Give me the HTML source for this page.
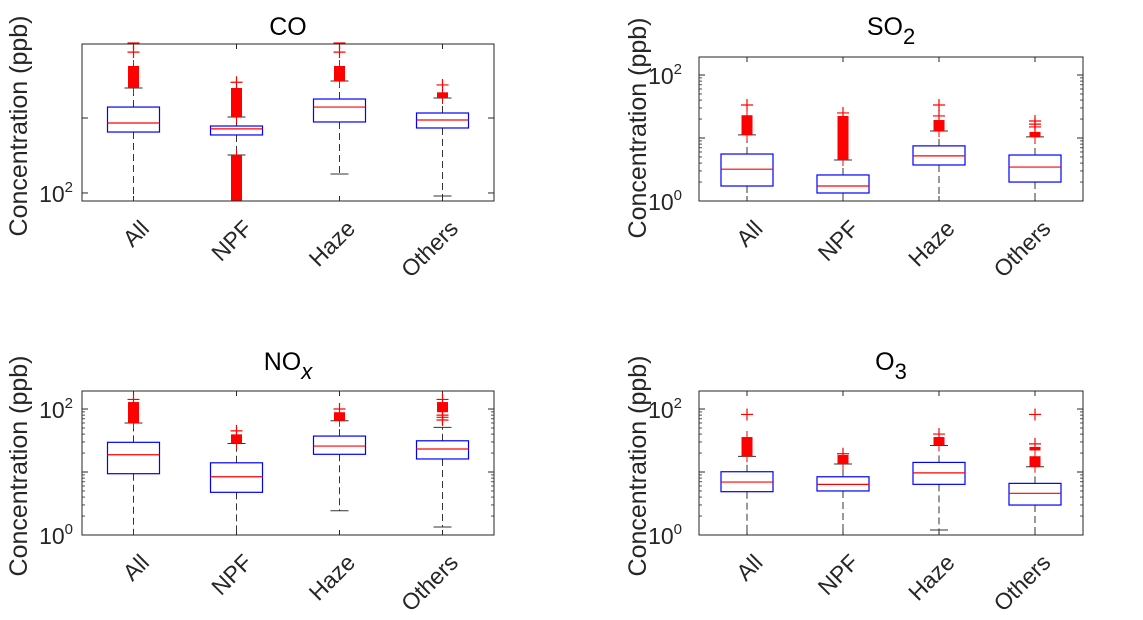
<!DOCTYPE html>
<html><head><meta charset="utf-8"><style>
html,body{margin:0;padding:0;background:#fff;}
svg{display:block;font-family:"Liberation Sans",Arial,sans-serif;}
</style></head><body>
<svg id="fig" width="1143" height="620" viewBox="0 0 1143 620" xmlns="http://www.w3.org/2000/svg"></svg>
<script>
const categories = ["All","NPF","Haze","Others"];
// CO
const coQ1 = [650, 594, 885, 736];
const coMed = [858, 716, 1400, 940];
const coQ3 = [1400, 782, 1791, 1166];
const coWhLo = [78, 321, 179, 91];
const coWhHi = [2512, 1031, 3113, 1848];
const coBands = [[[2512,4940]], [[1031,2512],[78,321]], [[3113,4940]], [[1848,2200]]];
const coPoints = [[7570,10000], [3000], [7570,10000], [2760]];
// SO2
const so2Q1 = [1.73, 1.34, 3.73, 2.0];
const so2Med = [3.2, 1.73, 5.2, 3.46];
const so2Q3 = [5.57, 2.59, 7.5, 5.37];
const so2WhLo = [1, 1, 1, 1];
const so2WhHi = [11.2, 4.47, 12.9, 10.4];
const so2Bands = [[[11.2,23]], [[4.47,22.4]], [[12.9,19.3]], [[10.4,12.5]]];
const so2Points = [[33.4], [25], [22.4,33.4], [15,16.6,18.6]];
// NOx
const noxQ1 = [9.4, 4.76, 19.1, 16.1];
const noxMed = [18.8, 8.4, 25.8, 23.2];
const noxQ3 = [29.6, 14.0, 37.2, 31.3];
const noxWhLo = [1, 1, 2.43, 1.34];
const noxWhHi = [60, 28.3, 65, 51];
const noxBands = [[[60,129]], [[28.3,39.6]], [[65,89]], [[89,129]]];
const noxPoints = [[142], [45], [100], [67,73.8,80,142]];
// O3
const o3Q1 = [4.87, 5.0, 6.37, 2.99];
const o3Med = [6.93, 6.37, 9.7, 4.59];
const o3Q3 = [10.1, 8.4, 14.2, 6.6];
const o3WhLo = [1, 1, 1.2, 1];
const o3WhHi = [17.7, 13.4, 26.4, 12.1];
const o3Bands = [[[17.7,35.9]], [[13.4,18.6]], [[26.4,35.9]], [[12.1,17.8],[22,25]]];
const o3Points = [[82], [19.5], [40], [82,28]];

const NS="http://www.w3.org/2000/svg";
const svg=document.getElementById('fig');
function mk(tag,attrs,parent){const e=document.createElementNS(NS,tag);for(const k in attrs)e.setAttribute(k,attrs[k]);(parent||svg).appendChild(e);return e;}

function panel(cfg){
  const g=mk('g',{});
  
  
  const {x0,x1,y0,y1,lmin,lmax}=cfg;
  const ys=v=>y1-(Math.log10(v)-lmin)/(lmax-lmin)*(y1-y0);
  const xs=i=>x0+(x1-x0)*(0.125+0.25*i);
  if(cfg.minor){
    for(let d=Math.floor(lmin);d<Math.ceil(lmax);d++){
      for(let m=2;m<10;m++){const v=m*Math.pow(10,d);const y=ys(v);if(y<y0||y>y1)continue;
        mk('line',{x1:x0,x2:x0+3,y1:y,y2:y,stroke:'#262626','stroke-width':0.8},g);
        mk('line',{x1:x1,x2:x1-3,y1:y,y2:y,stroke:'#262626','stroke-width':0.8},g);}
    }
  }
  cfg.majors.forEach(p=>{const y=ys(Math.pow(10,p));
    mk('line',{x1:x0,x2:x0+6,y1:y,y2:y,stroke:'#262626'},g);
    mk('line',{x1:x1,x2:x1-6,y1:y,y2:y,stroke:'#262626'},g);
    if(cfg.labels.includes(p)){
      const t=mk('text',{x:x0-cfg.tlg,y:y+9,'text-anchor':'end','font-size':23,fill:'#262626'},g);
      
      
      t.innerHTML='10<tspan dy="-10" font-size="15">'+p+'</tspan>';
    }
  });
  categories.forEach((c,i)=>{
    const x=xs(i);
    mk('line',{x1:x,x2:x,y1:y0,y2:y0+5,stroke:'#262626'},g);
    mk('line',{x1:x,x2:x,y1:y1,y2:y1-5,stroke:'#262626'},g);
    const t=mk('text',{x:0,y:0,'text-anchor':'end','font-size':23,fill:'#262626',transform:`translate(${x+17},${y1+29}) rotate(-45)`},g);
    
    
    t.textContent=c;
    const cy=v=>Math.min(Math.max(ys(v),y0),y1);
    const w1=mk('line',{x1:x,x2:x,y1:cy(cfg.q3[i]),y2:cy(cfg.whHi[i]),stroke:'#333','stroke-dasharray':'7,4'},g);
    
    
    const w2=mk('line',{x1:x,x2:x,y1:cy(cfg.q1[i]),y2:cy(cfg.whLo[i]),stroke:'#333','stroke-dasharray':'7,4'},g);
    
    
    mk('line',{x1:x-9,x2:x+9,y1:cy(cfg.whHi[i]),y2:cy(cfg.whHi[i]),stroke:'#333'},g);
    mk('line',{x1:x-9,x2:x+9,y1:cy(cfg.whLo[i]),y2:cy(cfg.whLo[i]),stroke:'#333'},g);
    const b=mk('rect',{x:x-26,y:ys(cfg.q3[i]),width:52,height:ys(cfg.q1[i])-ys(cfg.q3[i]),fill:'none',stroke:'#0000ff','stroke-width':1.2},g);
    
    
    const m=mk('line',{x1:x-26,x2:x+26,y1:ys(cfg.med[i]),y2:ys(cfg.med[i]),stroke:'#ff0000','stroke-width':1.2},g);
    
    
    cfg.bands[i].forEach(bd=>{
      const ya=cy(bd[1]), yb=cy(bd[0]);
      const r=mk('rect',{x:x-5.5,y:ya,width:11,height:Math.max(yb-ya,1),fill:'#ff0000'},g);
      
      
      mk('line',{x1:x,x2:x,y1:Math.max(ya-6,y0),y2:Math.min(yb+6,y1),stroke:'#ff0000'},g);
    });
    cfg.points[i].forEach(v=>{const y=ys(v);if(y<y0-3)return;
      const p=mk('path',{d:`M${x-6},${y}H${x+6}M${x},${Math.max(y-6,y0)}V${y+6}`,stroke:'#ff0000','stroke-width':1.2,fill:'none'},g);
      
      
    });
  });
  const ax=mk('rect',{x:x0,y:y0,width:x1-x0,height:y1-y0,fill:'none',stroke:'#262626','stroke-width':1},g);
  
  
  const tt=mk('text',{x:(x0+x1)/2,y:cfg.ty,'text-anchor':'middle','font-size':25,fill:'#000'},g);
  
  
  tt.innerHTML=cfg.title;
  const yl=mk('text',{x:0,y:0,'text-anchor':'middle','font-size':25,fill:'#262626',transform:`translate(${cfg.ylx},${cfg.ylc}) rotate(-90)`},g);
  
  
  yl.textContent='Concentration (ppb)';
}
panel({name:'co',x0:82,x1:494,y0:44,y1:201,lmin:1.893,lmax:3.987,majors:[2,3],labels:[2],minor:false,tlg:9,
  q1:coQ1,med:coMed,q3:coQ3,whLo:coWhLo,whHi:coWhHi,bands:coBands,points:coPoints,title:'CO',ty:35,ylx:27,ylc:126});
panel({name:'so2',x0:699,x1:1083,y0:57,y1:201,lmin:0,lmax:2.286,majors:[0,1,2],labels:[0,2],minor:true,tlg:17,
  q1:so2Q1,med:so2Med,q3:so2Q3,whLo:so2WhLo,whHi:so2WhHi,bands:so2Bands,points:so2Points,title:'SO<tspan dy="9" font-size="22">2</tspan>',ty:35,ylx:646,ylc:128});
panel({name:'nox',x0:82,x1:494,y0:391,y1:535,lmin:0,lmax:2.286,majors:[0,1,2],labels:[0,2],minor:true,tlg:9,
  q1:noxQ1,med:noxMed,q3:noxQ3,whLo:noxWhLo,whHi:noxWhHi,bands:noxBands,points:noxPoints,title:'NO<tspan dy="9" font-style="italic" font-size="22">x</tspan>',ty:370,ylx:27,ylc:466});
panel({name:'o3',x0:699,x1:1083,y0:391,y1:535,lmin:0,lmax:2.286,majors:[0,1,2],labels:[0,2],minor:true,tlg:17,
  q1:o3Q1,med:o3Med,q3:o3Q3,whLo:o3WhLo,whHi:o3WhHi,bands:o3Bands,points:o3Points,title:'O<tspan dy="9" font-size="22">3</tspan>',ty:370,ylx:646,ylc:466});
</script>
</body></html>
